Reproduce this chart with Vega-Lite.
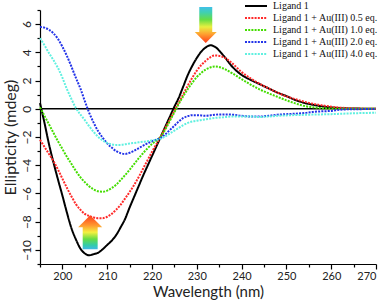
{
  "$schema": "https://vega.github.io/schema/vega-lite/v6.json",
  "width": 336,
  "height": 254,
  "autosize": {"type": "none"},
  "padding": {"left": 40, "top": 10, "right": 10, "bottom": 39},
  "background": "white",
  "view": {"stroke": null},
  "config": {
    "font": "Lato",
    "axis": {"domainColor": "#000", "tickColor": "#000", "labelColor": "#222", "titleColor": "#222", "grid": false, "domainWidth": 1.2, "tickWidth": 1.2}
  },
  "datasets": {
    "curves": [
      {"s":"Ligand 1","w":195,"v":0.4},{"s":"Ligand 1","w":196,"v":-1.0},{"s":"Ligand 1","w":197,"v":-2.5},{"s":"Ligand 1","w":198,"v":-3.8},{"s":"Ligand 1","w":199,"v":-5.0},{"s":"Ligand 1","w":200,"v":-6.15},{"s":"Ligand 1","w":201,"v":-7.35},{"s":"Ligand 1","w":202,"v":-8.45},{"s":"Ligand 1","w":203,"v":-9.25},{"s":"Ligand 1","w":204,"v":-9.9},{"s":"Ligand 1","w":205,"v":-10.25},{"s":"Ligand 1","w":206,"v":-10.38},{"s":"Ligand 1","w":207,"v":-10.3},{"s":"Ligand 1","w":208,"v":-10.2},{"s":"Ligand 1","w":209,"v":-9.95},{"s":"Ligand 1","w":210,"v":-9.65},{"s":"Ligand 1","w":211,"v":-9.35},{"s":"Ligand 1","w":212,"v":-8.95},{"s":"Ligand 1","w":213,"v":-8.4},{"s":"Ligand 1","w":214,"v":-7.8},{"s":"Ligand 1","w":215,"v":-7.0},{"s":"Ligand 1","w":216,"v":-6.25},{"s":"Ligand 1","w":217,"v":-5.5},{"s":"Ligand 1","w":218,"v":-4.75},{"s":"Ligand 1","w":219,"v":-4.05},{"s":"Ligand 1","w":220,"v":-3.35},{"s":"Ligand 1","w":221,"v":-2.65},{"s":"Ligand 1","w":222,"v":-1.95},{"s":"Ligand 1","w":223,"v":-1.25},{"s":"Ligand 1","w":224,"v":-0.55},{"s":"Ligand 1","w":225,"v":0.15},{"s":"Ligand 1","w":226,"v":0.8},{"s":"Ligand 1","w":227,"v":1.6},{"s":"Ligand 1","w":228,"v":2.4},{"s":"Ligand 1","w":229,"v":3.05},{"s":"Ligand 1","w":230,"v":3.6},{"s":"Ligand 1","w":231,"v":4.05},{"s":"Ligand 1","w":232,"v":4.35},{"s":"Ligand 1","w":233,"v":4.5},{"s":"Ligand 1","w":234,"v":4.4},{"s":"Ligand 1","w":236,"v":3.75},{"s":"Ligand 1","w":238,"v":2.95},{"s":"Ligand 1","w":240,"v":2.4},{"s":"Ligand 1","w":242,"v":2.05},{"s":"Ligand 1","w":244,"v":1.75},{"s":"Ligand 1","w":246,"v":1.45},{"s":"Ligand 1","w":248,"v":1.15},{"s":"Ligand 1","w":250,"v":0.9},{"s":"Ligand 1","w":252,"v":0.62},{"s":"Ligand 1","w":254,"v":0.42},{"s":"Ligand 1","w":256,"v":0.28},{"s":"Ligand 1","w":258,"v":0.17},{"s":"Ligand 1","w":260,"v":0.1},{"s":"Ligand 1","w":262,"v":0.05},{"s":"Ligand 1","w":265,"v":0.02},{"s":"Ligand 1","w":270,"v":0.0},

      {"s":"Ligand 1 + Au(III) 0.5 eq.","w":195,"v":-2.2},{"s":"Ligand 1 + Au(III) 0.5 eq.","w":196,"v":-2.7},{"s":"Ligand 1 + Au(III) 0.5 eq.","w":197,"v":-3.2},{"s":"Ligand 1 + Au(III) 0.5 eq.","w":198,"v":-3.7},{"s":"Ligand 1 + Au(III) 0.5 eq.","w":199,"v":-4.3},{"s":"Ligand 1 + Au(III) 0.5 eq.","w":200,"v":-4.95},{"s":"Ligand 1 + Au(III) 0.5 eq.","w":201,"v":-5.6},{"s":"Ligand 1 + Au(III) 0.5 eq.","w":202,"v":-6.2},{"s":"Ligand 1 + Au(III) 0.5 eq.","w":203,"v":-6.75},{"s":"Ligand 1 + Au(III) 0.5 eq.","w":204,"v":-7.15},{"s":"Ligand 1 + Au(III) 0.5 eq.","w":205,"v":-7.45},{"s":"Ligand 1 + Au(III) 0.5 eq.","w":206,"v":-7.6},{"s":"Ligand 1 + Au(III) 0.5 eq.","w":207,"v":-7.7},{"s":"Ligand 1 + Au(III) 0.5 eq.","w":208,"v":-7.75},{"s":"Ligand 1 + Au(III) 0.5 eq.","w":209,"v":-7.75},{"s":"Ligand 1 + Au(III) 0.5 eq.","w":210,"v":-7.65},{"s":"Ligand 1 + Au(III) 0.5 eq.","w":211,"v":-7.45},{"s":"Ligand 1 + Au(III) 0.5 eq.","w":212,"v":-7.15},{"s":"Ligand 1 + Au(III) 0.5 eq.","w":213,"v":-6.8},{"s":"Ligand 1 + Au(III) 0.5 eq.","w":214,"v":-6.35},{"s":"Ligand 1 + Au(III) 0.5 eq.","w":215,"v":-5.9},{"s":"Ligand 1 + Au(III) 0.5 eq.","w":216,"v":-5.4},{"s":"Ligand 1 + Au(III) 0.5 eq.","w":217,"v":-4.85},{"s":"Ligand 1 + Au(III) 0.5 eq.","w":218,"v":-4.25},{"s":"Ligand 1 + Au(III) 0.5 eq.","w":219,"v":-3.65},{"s":"Ligand 1 + Au(III) 0.5 eq.","w":220,"v":-3.05},{"s":"Ligand 1 + Au(III) 0.5 eq.","w":221,"v":-2.5},{"s":"Ligand 1 + Au(III) 0.5 eq.","w":222,"v":-1.95},{"s":"Ligand 1 + Au(III) 0.5 eq.","w":223,"v":-1.35},{"s":"Ligand 1 + Au(III) 0.5 eq.","w":224,"v":-0.75},{"s":"Ligand 1 + Au(III) 0.5 eq.","w":225,"v":-0.15},{"s":"Ligand 1 + Au(III) 0.5 eq.","w":226,"v":0.45},{"s":"Ligand 1 + Au(III) 0.5 eq.","w":227,"v":1.05},{"s":"Ligand 1 + Au(III) 0.5 eq.","w":228,"v":1.65},{"s":"Ligand 1 + Au(III) 0.5 eq.","w":229,"v":2.2},{"s":"Ligand 1 + Au(III) 0.5 eq.","w":230,"v":2.7},{"s":"Ligand 1 + Au(III) 0.5 eq.","w":231,"v":3.1},{"s":"Ligand 1 + Au(III) 0.5 eq.","w":232,"v":3.4},{"s":"Ligand 1 + Au(III) 0.5 eq.","w":233,"v":3.65},{"s":"Ligand 1 + Au(III) 0.5 eq.","w":234,"v":3.78},{"s":"Ligand 1 + Au(III) 0.5 eq.","w":236,"v":3.65},{"s":"Ligand 1 + Au(III) 0.5 eq.","w":238,"v":3.2},{"s":"Ligand 1 + Au(III) 0.5 eq.","w":240,"v":2.6},{"s":"Ligand 1 + Au(III) 0.5 eq.","w":242,"v":2.15},{"s":"Ligand 1 + Au(III) 0.5 eq.","w":244,"v":1.78},{"s":"Ligand 1 + Au(III) 0.5 eq.","w":246,"v":1.45},{"s":"Ligand 1 + Au(III) 0.5 eq.","w":248,"v":1.15},{"s":"Ligand 1 + Au(III) 0.5 eq.","w":250,"v":0.88},{"s":"Ligand 1 + Au(III) 0.5 eq.","w":252,"v":0.68},{"s":"Ligand 1 + Au(III) 0.5 eq.","w":254,"v":0.5},{"s":"Ligand 1 + Au(III) 0.5 eq.","w":256,"v":0.35},{"s":"Ligand 1 + Au(III) 0.5 eq.","w":258,"v":0.24},{"s":"Ligand 1 + Au(III) 0.5 eq.","w":260,"v":0.15},{"s":"Ligand 1 + Au(III) 0.5 eq.","w":262,"v":0.08},{"s":"Ligand 1 + Au(III) 0.5 eq.","w":265,"v":0.03},{"s":"Ligand 1 + Au(III) 0.5 eq.","w":270,"v":0.0},

      {"s":"Ligand 1 + Au(III) 1.0 eq.","w":195,"v":0.1},{"s":"Ligand 1 + Au(III) 1.0 eq.","w":196,"v":-0.5},{"s":"Ligand 1 + Au(III) 1.0 eq.","w":197,"v":-1.1},{"s":"Ligand 1 + Au(III) 1.0 eq.","w":198,"v":-1.7},{"s":"Ligand 1 + Au(III) 1.0 eq.","w":199,"v":-2.3},{"s":"Ligand 1 + Au(III) 1.0 eq.","w":200,"v":-2.85},{"s":"Ligand 1 + Au(III) 1.0 eq.","w":201,"v":-3.4},{"s":"Ligand 1 + Au(III) 1.0 eq.","w":202,"v":-3.9},{"s":"Ligand 1 + Au(III) 1.0 eq.","w":203,"v":-4.4},{"s":"Ligand 1 + Au(III) 1.0 eq.","w":204,"v":-4.85},{"s":"Ligand 1 + Au(III) 1.0 eq.","w":205,"v":-5.2},{"s":"Ligand 1 + Au(III) 1.0 eq.","w":206,"v":-5.5},{"s":"Ligand 1 + Au(III) 1.0 eq.","w":207,"v":-5.72},{"s":"Ligand 1 + Au(III) 1.0 eq.","w":208,"v":-5.85},{"s":"Ligand 1 + Au(III) 1.0 eq.","w":209,"v":-5.88},{"s":"Ligand 1 + Au(III) 1.0 eq.","w":210,"v":-5.8},{"s":"Ligand 1 + Au(III) 1.0 eq.","w":211,"v":-5.62},{"s":"Ligand 1 + Au(III) 1.0 eq.","w":212,"v":-5.38},{"s":"Ligand 1 + Au(III) 1.0 eq.","w":213,"v":-5.05},{"s":"Ligand 1 + Au(III) 1.0 eq.","w":214,"v":-4.7},{"s":"Ligand 1 + Au(III) 1.0 eq.","w":215,"v":-4.32},{"s":"Ligand 1 + Au(III) 1.0 eq.","w":216,"v":-3.92},{"s":"Ligand 1 + Au(III) 1.0 eq.","w":217,"v":-3.52},{"s":"Ligand 1 + Au(III) 1.0 eq.","w":218,"v":-3.15},{"s":"Ligand 1 + Au(III) 1.0 eq.","w":219,"v":-2.8},{"s":"Ligand 1 + Au(III) 1.0 eq.","w":220,"v":-2.5},{"s":"Ligand 1 + Au(III) 1.0 eq.","w":221,"v":-2.25},{"s":"Ligand 1 + Au(III) 1.0 eq.","w":222,"v":-1.95},{"s":"Ligand 1 + Au(III) 1.0 eq.","w":223,"v":-1.45},{"s":"Ligand 1 + Au(III) 1.0 eq.","w":224,"v":-0.85},{"s":"Ligand 1 + Au(III) 1.0 eq.","w":225,"v":-0.25},{"s":"Ligand 1 + Au(III) 1.0 eq.","w":226,"v":0.35},{"s":"Ligand 1 + Au(III) 1.0 eq.","w":227,"v":0.9},{"s":"Ligand 1 + Au(III) 1.0 eq.","w":228,"v":1.4},{"s":"Ligand 1 + Au(III) 1.0 eq.","w":229,"v":1.85},{"s":"Ligand 1 + Au(III) 1.0 eq.","w":230,"v":2.25},{"s":"Ligand 1 + Au(III) 1.0 eq.","w":231,"v":2.55},{"s":"Ligand 1 + Au(III) 1.0 eq.","w":232,"v":2.78},{"s":"Ligand 1 + Au(III) 1.0 eq.","w":233,"v":2.93},{"s":"Ligand 1 + Au(III) 1.0 eq.","w":234,"v":3.0},{"s":"Ligand 1 + Au(III) 1.0 eq.","w":236,"v":2.85},{"s":"Ligand 1 + Au(III) 1.0 eq.","w":238,"v":2.5},{"s":"Ligand 1 + Au(III) 1.0 eq.","w":240,"v":2.1},{"s":"Ligand 1 + Au(III) 1.0 eq.","w":242,"v":1.72},{"s":"Ligand 1 + Au(III) 1.0 eq.","w":244,"v":1.38},{"s":"Ligand 1 + Au(III) 1.0 eq.","w":246,"v":1.1},{"s":"Ligand 1 + Au(III) 1.0 eq.","w":248,"v":0.85},{"s":"Ligand 1 + Au(III) 1.0 eq.","w":250,"v":0.6},{"s":"Ligand 1 + Au(III) 1.0 eq.","w":252,"v":0.38},{"s":"Ligand 1 + Au(III) 1.0 eq.","w":254,"v":0.2},{"s":"Ligand 1 + Au(III) 1.0 eq.","w":256,"v":0.1},{"s":"Ligand 1 + Au(III) 1.0 eq.","w":258,"v":0.04},{"s":"Ligand 1 + Au(III) 1.0 eq.","w":260,"v":0.02},{"s":"Ligand 1 + Au(III) 1.0 eq.","w":262,"v":0.0},{"s":"Ligand 1 + Au(III) 1.0 eq.","w":265,"v":0.0},{"s":"Ligand 1 + Au(III) 1.0 eq.","w":270,"v":0.0},

      {"s":"Ligand 1 + Au(III) 2.0 eq.","w":195,"v":5.8},{"s":"Ligand 1 + Au(III) 2.0 eq.","w":196,"v":5.75},{"s":"Ligand 1 + Au(III) 2.0 eq.","w":197,"v":5.6},{"s":"Ligand 1 + Au(III) 2.0 eq.","w":198,"v":5.35},{"s":"Ligand 1 + Au(III) 2.0 eq.","w":199,"v":4.95},{"s":"Ligand 1 + Au(III) 2.0 eq.","w":200,"v":4.4},{"s":"Ligand 1 + Au(III) 2.0 eq.","w":201,"v":3.75},{"s":"Ligand 1 + Au(III) 2.0 eq.","w":202,"v":3.0},{"s":"Ligand 1 + Au(III) 2.0 eq.","w":203,"v":2.2},{"s":"Ligand 1 + Au(III) 2.0 eq.","w":204,"v":1.45},{"s":"Ligand 1 + Au(III) 2.0 eq.","w":205,"v":0.55},{"s":"Ligand 1 + Au(III) 2.0 eq.","w":206,"v":-0.3},{"s":"Ligand 1 + Au(III) 2.0 eq.","w":207,"v":-1.0},{"s":"Ligand 1 + Au(III) 2.0 eq.","w":208,"v":-1.6},{"s":"Ligand 1 + Au(III) 2.0 eq.","w":209,"v":-2.05},{"s":"Ligand 1 + Au(III) 2.0 eq.","w":210,"v":-2.45},{"s":"Ligand 1 + Au(III) 2.0 eq.","w":211,"v":-2.75},{"s":"Ligand 1 + Au(III) 2.0 eq.","w":212,"v":-3.0},{"s":"Ligand 1 + Au(III) 2.0 eq.","w":213,"v":-3.15},{"s":"Ligand 1 + Au(III) 2.0 eq.","w":214,"v":-3.2},{"s":"Ligand 1 + Au(III) 2.0 eq.","w":215,"v":-3.12},{"s":"Ligand 1 + Au(III) 2.0 eq.","w":216,"v":-2.98},{"s":"Ligand 1 + Au(III) 2.0 eq.","w":217,"v":-2.8},{"s":"Ligand 1 + Au(III) 2.0 eq.","w":218,"v":-2.62},{"s":"Ligand 1 + Au(III) 2.0 eq.","w":219,"v":-2.45},{"s":"Ligand 1 + Au(III) 2.0 eq.","w":220,"v":-2.3},{"s":"Ligand 1 + Au(III) 2.0 eq.","w":221,"v":-2.18},{"s":"Ligand 1 + Au(III) 2.0 eq.","w":222,"v":-2.05},{"s":"Ligand 1 + Au(III) 2.0 eq.","w":223,"v":-1.8},{"s":"Ligand 1 + Au(III) 2.0 eq.","w":224,"v":-1.5},{"s":"Ligand 1 + Au(III) 2.0 eq.","w":225,"v":-1.2},{"s":"Ligand 1 + Au(III) 2.0 eq.","w":226,"v":-0.9},{"s":"Ligand 1 + Au(III) 2.0 eq.","w":227,"v":-0.65},{"s":"Ligand 1 + Au(III) 2.0 eq.","w":228,"v":-0.52},{"s":"Ligand 1 + Au(III) 2.0 eq.","w":229,"v":-0.45},{"s":"Ligand 1 + Au(III) 2.0 eq.","w":230,"v":-0.45},{"s":"Ligand 1 + Au(III) 2.0 eq.","w":232,"v":-0.5},{"s":"Ligand 1 + Au(III) 2.0 eq.","w":234,"v":-0.42},{"s":"Ligand 1 + Au(III) 2.0 eq.","w":236,"v":-0.4},{"s":"Ligand 1 + Au(III) 2.0 eq.","w":238,"v":-0.42},{"s":"Ligand 1 + Au(III) 2.0 eq.","w":240,"v":-0.5},{"s":"Ligand 1 + Au(III) 2.0 eq.","w":242,"v":-0.55},{"s":"Ligand 1 + Au(III) 2.0 eq.","w":244,"v":-0.55},{"s":"Ligand 1 + Au(III) 2.0 eq.","w":246,"v":-0.5},{"s":"Ligand 1 + Au(III) 2.0 eq.","w":248,"v":-0.42},{"s":"Ligand 1 + Au(III) 2.0 eq.","w":250,"v":-0.38},{"s":"Ligand 1 + Au(III) 2.0 eq.","w":252,"v":-0.35},{"s":"Ligand 1 + Au(III) 2.0 eq.","w":254,"v":-0.3},{"s":"Ligand 1 + Au(III) 2.0 eq.","w":256,"v":-0.22},{"s":"Ligand 1 + Au(III) 2.0 eq.","w":258,"v":-0.18},{"s":"Ligand 1 + Au(III) 2.0 eq.","w":260,"v":-0.15},{"s":"Ligand 1 + Au(III) 2.0 eq.","w":262,"v":-0.07},{"s":"Ligand 1 + Au(III) 2.0 eq.","w":265,"v":-0.03},{"s":"Ligand 1 + Au(III) 2.0 eq.","w":270,"v":-0.02},

      {"s":"Ligand 1 + Au(III) 4.0 eq.","w":195,"v":5.0},{"s":"Ligand 1 + Au(III) 4.0 eq.","w":196,"v":4.5},{"s":"Ligand 1 + Au(III) 4.0 eq.","w":197,"v":3.95},{"s":"Ligand 1 + Au(III) 4.0 eq.","w":198,"v":3.45},{"s":"Ligand 1 + Au(III) 4.0 eq.","w":199,"v":2.9},{"s":"Ligand 1 + Au(III) 4.0 eq.","w":200,"v":2.2},{"s":"Ligand 1 + Au(III) 4.0 eq.","w":201,"v":1.4},{"s":"Ligand 1 + Au(III) 4.0 eq.","w":202,"v":0.7},{"s":"Ligand 1 + Au(III) 4.0 eq.","w":203,"v":0.05},{"s":"Ligand 1 + Au(III) 4.0 eq.","w":204,"v":-0.4},{"s":"Ligand 1 + Au(III) 4.0 eq.","w":205,"v":-0.8},{"s":"Ligand 1 + Au(III) 4.0 eq.","w":206,"v":-1.25},{"s":"Ligand 1 + Au(III) 4.0 eq.","w":207,"v":-1.65},{"s":"Ligand 1 + Au(III) 4.0 eq.","w":208,"v":-2.0},{"s":"Ligand 1 + Au(III) 4.0 eq.","w":209,"v":-2.25},{"s":"Ligand 1 + Au(III) 4.0 eq.","w":210,"v":-2.42},{"s":"Ligand 1 + Au(III) 4.0 eq.","w":211,"v":-2.52},{"s":"Ligand 1 + Au(III) 4.0 eq.","w":212,"v":-2.56},{"s":"Ligand 1 + Au(III) 4.0 eq.","w":213,"v":-2.56},{"s":"Ligand 1 + Au(III) 4.0 eq.","w":214,"v":-2.52},{"s":"Ligand 1 + Au(III) 4.0 eq.","w":215,"v":-2.46},{"s":"Ligand 1 + Au(III) 4.0 eq.","w":216,"v":-2.42},{"s":"Ligand 1 + Au(III) 4.0 eq.","w":217,"v":-2.38},{"s":"Ligand 1 + Au(III) 4.0 eq.","w":218,"v":-2.34},{"s":"Ligand 1 + Au(III) 4.0 eq.","w":219,"v":-2.3},{"s":"Ligand 1 + Au(III) 4.0 eq.","w":220,"v":-2.25},{"s":"Ligand 1 + Au(III) 4.0 eq.","w":221,"v":-2.2},{"s":"Ligand 1 + Au(III) 4.0 eq.","w":222,"v":-2.12},{"s":"Ligand 1 + Au(III) 4.0 eq.","w":223,"v":-1.95},{"s":"Ligand 1 + Au(III) 4.0 eq.","w":224,"v":-1.75},{"s":"Ligand 1 + Au(III) 4.0 eq.","w":225,"v":-1.55},{"s":"Ligand 1 + Au(III) 4.0 eq.","w":226,"v":-1.35},{"s":"Ligand 1 + Au(III) 4.0 eq.","w":227,"v":-1.15},{"s":"Ligand 1 + Au(III) 4.0 eq.","w":228,"v":-1.0},{"s":"Ligand 1 + Au(III) 4.0 eq.","w":229,"v":-0.9},{"s":"Ligand 1 + Au(III) 4.0 eq.","w":230,"v":-0.85},{"s":"Ligand 1 + Au(III) 4.0 eq.","w":232,"v":-0.75},{"s":"Ligand 1 + Au(III) 4.0 eq.","w":234,"v":-0.65},{"s":"Ligand 1 + Au(III) 4.0 eq.","w":236,"v":-0.6},{"s":"Ligand 1 + Au(III) 4.0 eq.","w":238,"v":-0.55},{"s":"Ligand 1 + Au(III) 4.0 eq.","w":240,"v":-0.55},{"s":"Ligand 1 + Au(III) 4.0 eq.","w":242,"v":-0.55},{"s":"Ligand 1 + Au(III) 4.0 eq.","w":244,"v":-0.58},{"s":"Ligand 1 + Au(III) 4.0 eq.","w":246,"v":-0.55},{"s":"Ligand 1 + Au(III) 4.0 eq.","w":248,"v":-0.5},{"s":"Ligand 1 + Au(III) 4.0 eq.","w":250,"v":-0.47},{"s":"Ligand 1 + Au(III) 4.0 eq.","w":255,"v":-0.42},{"s":"Ligand 1 + Au(III) 4.0 eq.","w":260,"v":-0.38},{"s":"Ligand 1 + Au(III) 4.0 eq.","w":265,"v":-0.32},{"s":"Ligand 1 + Au(III) 4.0 eq.","w":270,"v":-0.28}
    ]
  },
  "encoding": {
    "x": {
      "field": "w", "type": "quantitative",
      "scale": {"domain": [195, 270], "nice": false, "zero": false},
      "axis": {
        "title": "Wavelength (nm)", "titleFontSize": 15, "titleFontWeight": "normal", "titlePadding": 3,
        "values": [195,200,205,210,215,220,225,230,235,240,245,250,255,260,265,270],
        "labelExpr": "datum.value % 10 == 0 ? datum.label : ''",
        "labelFontSize": 11, "labelPadding": 1,
        "tickSize": {"condition": {"test": "datum.value % 10 == 0", "value": 5}, "value": 3}
      }
    },
    "y": {
      "field": "v", "type": "quantitative",
      "scale": {"domain": [-11, 7], "nice": false, "zero": false},
      "axis": {
        "title": "Ellipticity (mdeg)", "titleFontSize": 16, "titleFontWeight": "normal", "titlePadding": 2,
        "values": [-11,-10,-9,-8,-7,-6,-5,-4,-3,-2,-1,0,1,2,3,4,5,6,7],
        "labelExpr": "datum.value % 2 == 0 ? datum.label : ''",
        "labelFontSize": 12, "labelAngle": -90, "labelAlign": "center", "labelBaseline": "bottom", "labelPadding": 2,
        "tickSize": {"condition": {"test": "datum.value % 2 == 0", "value": 5}, "value": 3}
      }
    }
  },
  "layer": [
    {
      "data": {"values": [{"w": 195, "v": 0}, {"w": 270, "v": 0}]},
      "mark": {"type": "line", "color": "#000", "strokeWidth": 1.6}
    },
    {
      "data": {"name": "curves"},
      "mark": {"type": "line", "strokeWidth": 2, "interpolate": "monotone"},
      "encoding": {
        "color": {
          "field": "s", "type": "nominal",
          "scale": {
            "domain": ["Ligand 1", "Ligand 1 + Au(III) 0.5 eq.", "Ligand 1 + Au(III) 1.0 eq.", "Ligand 1 + Au(III) 2.0 eq.", "Ligand 1 + Au(III) 4.0 eq."],
            "range": ["#000000", "#ff2a2a", "#44dd00", "#2233e8", "#60f0e0"]
          },
          "legend": {
            "title": null, "orient": "none", "legendX": 204, "legendY": -10, "padding": 0,
            "symbolType": "stroke", "symbolSize": 484, "symbolStrokeWidth": 2, "clipHeight": 12, "rowPadding": 0,
            "labelFont": "Liberation Serif", "labelFontSize": 10, "labelColor": "#111", "labelOffset": 5, "labelLimit": 200
          }
        },
        "strokeDash": {
          "field": "s", "type": "nominal",
          "scale": {
            "domain": ["Ligand 1", "Ligand 1 + Au(III) 0.5 eq.", "Ligand 1 + Au(III) 1.0 eq.", "Ligand 1 + Au(III) 2.0 eq.", "Ligand 1 + Au(III) 4.0 eq."],
            "range": [[1, 0], [2, 1.2], [2, 1.2], [2, 1.2], [2, 1.2]]
          },
          "legend": {
            "title": null, "orient": "none", "legendX": 204, "legendY": -10, "padding": 0,
            "symbolType": "stroke", "symbolSize": 484, "symbolStrokeWidth": 2, "clipHeight": 12, "rowPadding": 0,
            "labelFont": "Liberation Serif", "labelFontSize": 10, "labelColor": "#111", "labelOffset": 5, "labelLimit": 200
          }
        }
      }
    },
    {
      "data": {"values": [{"w": 206.2, "v": -8.75}]},
      "mark": {
        "type": "point", "filled": true, "opacity": 1, "size": 1156, "strokeWidth": 0,
        "shape": "M0,-1L0.71,-0.29L0.44,-0.29L0.44,1L-0.44,1L-0.44,-0.29L-0.71,-0.29Z",
        "fill": {"gradient": "linear", "x1": 0, "y1": 0, "x2": 0, "y2": 1, "stops": [
          {"offset": 0, "color": "#ff3a1a"}, {"offset": 0.3, "color": "#ff9a30"}, {"offset": 0.5, "color": "#f5f040"},
          {"offset": 0.7, "color": "#66dd44"}, {"offset": 0.88, "color": "#33ccaa"}, {"offset": 1, "color": "#40b8e8"}]}
      }
    },
    {
      "data": {"values": [{"w": 232.0, "v": 5.93}]},
      "mark": {
        "type": "point", "filled": true, "opacity": 1, "size": 1296, "strokeWidth": 0,
        "shape": "M0,1L0.61,0.39L0.36,0.39L0.36,-1L-0.36,-1L-0.36,0.39L-0.61,0.39Z",
        "fill": {"gradient": "linear", "x1": 0, "y1": 0, "x2": 0, "y2": 1, "stops": [
          {"offset": 0, "color": "#40c0e8"}, {"offset": 0.15, "color": "#40d0b0"}, {"offset": 0.35, "color": "#66dd44"},
          {"offset": 0.55, "color": "#e8f040"}, {"offset": 0.75, "color": "#ffa030"}, {"offset": 1, "color": "#ff3a1a"}]}
      }
    }
  ]
}
